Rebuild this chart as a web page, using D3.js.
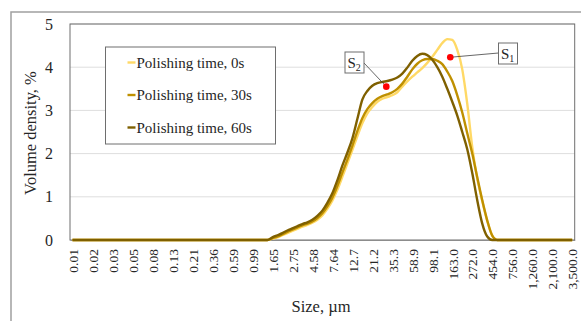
<!DOCTYPE html>
<html>
<head>
<meta charset="utf-8">
<script src="https://cdn.jsdelivr.net/npm/d3@7"></script>
<style>
  html, body { margin: 0; padding: 0; background: #fff; }
  svg { display: block; }
  text { font-family: "Liberation Serif", "DejaVu Serif", serif; fill: #262626; }
</style>
</head>
<body>
<svg id="chart" width="581" height="321"></svg>
<script>
// Particle size classes, µm (101 log-spaced bins)
const sizes = [
  0.01, 0.0114, 0.0129, 0.0147, 0.0167, 0.0189, 0.0215, 0.0244, 0.0278, 0.0315,
  0.0358, 0.0407, 0.0463, 0.0526, 0.0597, 0.0679, 0.0771, 0.0876, 0.0995, 0.113,
  0.128, 0.146, 0.166, 0.188, 0.214, 0.243, 0.276, 0.314, 0.357, 0.405,
  0.46, 0.523, 0.594, 0.675, 0.767, 0.872, 0.991, 1.13, 1.28, 1.45,
  1.65, 1.88, 2.13, 2.42, 2.75, 3.12, 3.55, 4.03, 4.58, 5.21,
  5.92, 6.72, 7.64, 8.68, 9.86, 11.2, 12.7, 14.5, 16.4, 18.7,
  21.2, 24.1, 27.4, 31.1, 35.3, 40.1, 45.6, 51.8, 58.9, 66.9,
  76, 86.4, 98.1, 111, 127, 144, 163, 186, 211, 240,
  272, 310, 352, 400, 454, 516, 586, 666, 756, 859,
  976, 1110, 1260, 1430, 1630, 1850, 2100, 2390, 2710, 3080,
  3500
];

// Axis labels shown under every fourth size class
const tickLabels = [
  "0.01", "0.02", "0.03", "0.05", "0.08", "0.13", "0.21", "0.36", "0.59", "0.99",
  "1.65", "2.75", "4.58", "7.64", "12.7", "21.2", "35.3", "58.9", "98.1", "163.0",
  "272.0", "454.0", "756.0", "1,260.0", "2,100.0", "3,500.0"
];

const yTicks = [0, 1, 2, 3, 4, 5];

// Volume density, % — polishing time 0 s
const density0s = [
  0, 0, 0, 0, 0, 0, 0, 0, 0, 0,
  0, 0, 0, 0, 0, 0, 0, 0, 0, 0,
  0, 0, 0, 0, 0, 0, 0, 0, 0, 0,
  0, 0, 0, 0, 0, 0, 0, 0, 0, 0,
  0.03, 0.06, 0.11, 0.16, 0.21, 0.26, 0.31, 0.35, 0.40, 0.47,
  0.57, 0.72, 0.91, 1.16, 1.46, 1.77, 2.08, 2.40, 2.70, 2.93,
  3.08, 3.20, 3.27, 3.31, 3.35, 3.42, 3.55, 3.67, 3.78, 3.88,
  3.98, 4.10, 4.24, 4.40, 4.56, 4.65, 4.63, 4.40, 3.95, 3.15,
  2.15, 1.42, 0.90, 0.44, 0.10, 0, 0, 0, 0, 0,
  0, 0, 0, 0, 0, 0, 0, 0, 0, 0,
  0
];

// Volume density, % — polishing time 30 s
const density30s = [
  0, 0, 0, 0, 0, 0, 0, 0, 0, 0,
  0, 0, 0, 0, 0, 0, 0, 0, 0, 0,
  0, 0, 0, 0, 0, 0, 0, 0, 0, 0,
  0, 0, 0, 0, 0, 0, 0, 0, 0, 0,
  0.04, 0.08, 0.13, 0.19, 0.24, 0.29, 0.34, 0.38, 0.43, 0.51,
  0.62, 0.78, 0.98, 1.25, 1.56, 1.86, 2.18, 2.52, 2.82, 3.03,
  3.17, 3.27, 3.33, 3.37, 3.42, 3.50, 3.62, 3.78, 3.95, 4.08,
  4.16, 4.19, 4.19, 4.15, 4.07, 3.90, 3.68, 3.35, 2.95, 2.47,
  2.00, 1.45, 0.92, 0.45, 0.10, 0, 0, 0, 0, 0,
  0, 0, 0, 0, 0, 0, 0, 0, 0, 0,
  0
];

// Volume density, % — polishing time 60 s
const density60s = [
  0, 0, 0, 0, 0, 0, 0, 0, 0, 0,
  0, 0, 0, 0, 0, 0, 0, 0, 0, 0,
  0, 0, 0, 0, 0, 0, 0, 0, 0, 0,
  0, 0, 0, 0, 0, 0, 0, 0, 0, 0,
  0.06, 0.11, 0.16, 0.22, 0.27, 0.32, 0.37, 0.41, 0.47, 0.56,
  0.68, 0.86, 1.08, 1.38, 1.72, 2.02, 2.35, 2.80, 3.25, 3.45,
  3.57, 3.63, 3.66, 3.68, 3.71, 3.76, 3.85, 3.99, 4.15, 4.26,
  4.31, 4.28, 4.17, 4.00, 3.78, 3.50, 3.20, 2.88, 2.50, 2.10,
  1.55, 0.92, 0.38, 0.08, 0, 0, 0, 0, 0, 0,
  0, 0, 0, 0, 0, 0, 0, 0, 0, 0,
  0
];

const seriesNames = ["Polishing time, 0s", "Polishing time, 30s", "Polishing time, 60s"];
const seriesColors = ["#ffd966", "#bf9000", "#7f6000"];

// Marked points: peak S1 near the 0 s maximum, shoulder S2 on the 60 s curve
const markerLabels = ["S1", "S2"];
const markerSizes = [144, 31.1];
const markerValues = [4.23, 3.55];

const svg = d3.select("#chart");
const plot = { left: 70, right: 574.7, top: 24, bottom: 240 };

const x = d3.scalePoint().domain(sizes).range([plot.left, plot.right]).padding(0.5);
const y = d3.scaleLinear().domain([0, 5]).range([plot.bottom, plot.top]);

// Outer chart frame
svg.append("rect")
  .attr("x", 11).attr("y", 12).attr("width", 620).attr("height", 400)
  .attr("fill", "none").attr("stroke", "#a0a0a0").attr("stroke-width", 1.5);

// Horizontal grid lines
svg.append("g")
  .selectAll("line")
  .data(yTicks.slice(1))
  .join("line")
  .attr("x1", plot.left).attr("x2", plot.right)
  .attr("y1", d => y(d)).attr("y2", d => y(d))
  .attr("stroke", "#dedede").attr("stroke-width", 1);

// Plot area border
svg.append("rect")
  .attr("x", plot.left).attr("y", plot.top)
  .attr("width", plot.right - plot.left).attr("height", plot.bottom - plot.top)
  .attr("fill", "none").attr("stroke", "#6e6e6e").attr("stroke-width", 1);

// Y axis
const yAxis = svg.append("g")
  .attr("transform", `translate(${plot.left},0)`)
  .call(d3.axisLeft(y).tickValues(yTicks).tickFormat(d3.format("d")).tickSize(0).tickPadding(17));
yAxis.select(".domain").remove();
yAxis.selectAll("text")
  .style("font-family", '"Liberation Serif", serif')
  .style("font-size", "16px").attr("fill", "#262626");

// X axis with rotated labels
const tickSizes = sizes.filter((d, i) => i % 4 === 0);
const xAxis = svg.append("g")
  .attr("transform", `translate(0,${plot.bottom})`)
  .call(d3.axisBottom(x).tickValues(tickSizes).tickFormat((d, i) => tickLabels[i]).tickSize(0));
xAxis.select(".domain").attr("stroke", "#8c8c8c");
xAxis.selectAll("text")
  .style("font-family", '"Liberation Serif", serif')
  .style("font-size", "13.5px").attr("fill", "#262626")
  .attr("text-anchor", "end")
  .attr("transform", "rotate(-90)")
  .attr("x", -9).attr("y", 0).attr("dy", "0.35em");

// Axis titles
svg.append("text")
  .attr("transform", `translate(36,133) rotate(-90)`)
  .attr("text-anchor", "middle")
  .style("font-size", "16.5px")
  .text("Volume density, %");

svg.append("text")
  .attr("x", 321).attr("y", 312)
  .attr("text-anchor", "middle")
  .style("font-size", "16.5px")
  .text("Size, µm");

// Distribution curves
const seriesData = [density0s, density30s, density60s];
const line = d3.line()
  .x((d, i) => x(sizes[i]))
  .y(d => y(d))
  .curve(d3.curveMonotoneX);

svg.append("g")
  .selectAll("path")
  .data(seriesData)
  .join("path")
  .attr("d", d => line(d))
  .attr("fill", "none")
  .attr("stroke", (d, i) => seriesColors[i])
  .attr("stroke-width", 2.4)
  .attr("stroke-linejoin", "round");

// Legend
const legend = svg.append("g");
legend.append("rect")
  .attr("x", 105.5).attr("y", 47).attr("width", 170).attr("height", 97)
  .attr("fill", "#fff").attr("stroke", "#6e6e6e").attr("stroke-width", 1);
const items = legend.selectAll("g.item")
  .data(seriesNames)
  .join("g")
  .attr("class", "item")
  .attr("transform", (d, i) => `translate(0,${62.5 + i * 32.5})`);
items.append("line")
  .attr("x1", 127.5).attr("x2", 135.5).attr("y1", 0).attr("y2", 0)
  .attr("stroke", (d, i) => seriesColors[i]).attr("stroke-width", 2.4);
items.append("text")
  .attr("x", 136.5).attr("y", 0).attr("dy", "0.35em")
  .style("font-size", "15px")
  .text(d => d);

// Annotated points S1 and S2
const boxes = [
  { x: 498.5, y: 43, w: 19, h: 21, ax: 498.5, ay: 53 },
  { x: 345, y: 52, w: 19, h: 21, ax: 364, ay: 63 }
];
const ann = svg.append("g");
markerLabels.forEach((lab, k) => {
  const px = x(markerSizes[k]) + (k === 0 ? 3 : -1);
  const py = y(markerValues[k]);
  const b = boxes[k];
  ann.append("line")
    .attr("x1", px).attr("y1", py).attr("x2", b.ax).attr("y2", b.ay)
    .attr("stroke", "#404040").attr("stroke-width", 0.8);
  ann.append("circle")
    .attr("cx", px).attr("cy", py).attr("r", 3.3).attr("fill", "#ff0000");
  ann.append("rect")
    .attr("x", b.x).attr("y", b.y).attr("width", b.w).attr("height", b.h)
    .attr("fill", "#fff").attr("stroke", "#6e6e6e").attr("stroke-width", 1);
  const t = ann.append("text")
    .attr("x", b.x + 2.5).attr("y", b.y + 15.5)
    .style("font-size", "15px");
  t.append("tspan").text(lab[0]);
  t.append("tspan").attr("dy", 3).style("font-size", "10px").text(lab.slice(1));
});
</script>
</body>
</html>
